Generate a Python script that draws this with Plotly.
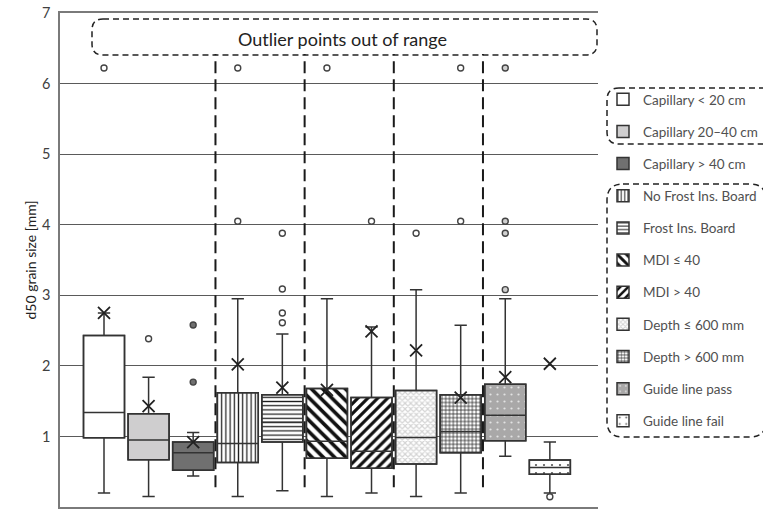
import plotly.graph_objects as go

# ---------------- data ----------------
categories = ["Capillary < 20 cm", "Capillary 20–40 cm", "Capillary > 40 cm",
              "No Frost Ins. Board", "Frost Ins. Board", "MDI ≤ 40", "MDI > 40",
              "Depth ≤ 600 mm", "Depth > 600 mm", "Guide line pass", "Guide line fail"]
positions = [1, 2, 3, 4, 5, 6, 7, 8, 9, 10, 11]
q1_vals = [0.98, 0.67, 0.52, 0.63, 0.92, 0.69, 0.55, 0.61, 0.77, 0.94, 0.465]
median_vals = [1.34, 0.95, 0.77, 0.90, 1.20, 0.93, 0.79, 0.985, 1.07, 1.30, 0.56]
q3_vals = [2.43, 1.32, 0.92, 1.62, 1.59, 1.68, 1.55, 1.65, 1.59, 1.74, 0.665]
low_vals = [0.20, 0.15, 0.44, 0.15, 0.23, 0.15, 0.20, 0.15, 0.20, 0.72, 0.20]
high_vals = [2.75, 1.84, 1.055, 2.95, 2.45, 2.95, 2.55, 3.08, 2.575, 2.95, 0.92]
mean_vals = [2.75, 1.43, 0.92, 2.02, 1.69, 1.66, 2.49, 2.22, 1.55, 1.84, 2.03]
outliers = [[6.22], [2.385], [1.77, 2.58], [4.05, 6.22], [2.61, 2.75, 3.09, 3.88],
            [6.22], [4.05], [3.88], [4.05, 6.22], [3.08, 3.88, 4.05, 6.22], [0.146]]
separators = [3.5, 5.5, 7.5, 9.5]
y_ticks = [0, 1, 2, 3, 4, 5, 6, 7]

# ---------------- styles ----------------
fills = ["#ffffff", "#cfcecf", "#707070", "#ffffff", "#ffffff", "#ffffff", "#ffffff",
         "#ffffff", "#ffffff", "#a9a8a8", "#ffffff"]
outlier_fill = ["#ffffff", "#ffffff", "#707070", "#ffffff", "#ffffff", "#ffffff", "#ffffff",
                "#ffffff", "#ffffff", "#d0d0d0", "#ffffff"]
patterns = [
    None, None, None,
    dict(shape="|", fgcolor="#1e1e1e", bgcolor="#ffffff", size=4.2, solidity=0.3, fillmode="replace"),
    dict(shape="-", fgcolor="#1e1e1e", bgcolor="#ffffff", size=4.2, solidity=0.3, fillmode="replace"),
    dict(shape="\\", fgcolor="#111111", bgcolor="#ffffff", size=8, solidity=0.45, fillmode="replace"),
    dict(shape="/", fgcolor="#111111", bgcolor="#ffffff", size=7, solidity=0.45, fillmode="replace"),
    dict(shape="x", fgcolor="#d4d4d4", bgcolor="#ffffff", size=4, solidity=0.5, fillmode="replace"),
    dict(shape="+", fgcolor="#1e1e1e", bgcolor="#ffffff", size=3.8, solidity=0.35, fillmode="replace"),
    dict(shape=".", fgcolor="#e2e2e2", bgcolor="#a9a8a8", size=7, solidity=0.08, fillmode="replace"),
    dict(shape=".", fgcolor="#555555", bgcolor="#ffffff", size=8, solidity=0.06, fillmode="replace"),
]
line_col = "#333333"
text_col = "#404040"
FONT = "Lato, 'Open Sans', sans-serif"
BOXW = 0.92

fig = go.Figure()

for i, name in enumerate(categories):
    marker = dict(color=fills[i], line=dict(color=line_col, width=1.5))
    if patterns[i] is not None:
        marker["pattern"] = patterns[i]
    fig.add_trace(go.Bar(
        x=[positions[i]], y=[q3_vals[i] - q1_vals[i]], base=[q1_vals[i]],
        width=BOXW, name=name, marker=marker, legendgroup="g%d" % i,
        hoverinfo="skip"))

fig.add_trace(go.Box(
    x=positions, q1=q1_vals, median=median_vals, q3=q3_vals,
    lowerfence=low_vals, upperfence=high_vals,
    width=BOXW, whiskerwidth=0.3, fillcolor="rgba(0,0,0,0)",
    line=dict(color=line_col, width=1.5), boxpoints=False, showlegend=False))

fig.add_trace(go.Scatter(
    x=positions, y=mean_vals, mode="markers", showlegend=False,
    marker=dict(symbol="x-thin", size=12, line=dict(color="#222222", width=1.8))))

ox, oy, oc = [], [], []
for i, vals in enumerate(outliers):
    for v in vals:
        ox.append(positions[i]); oy.append(v); oc.append(outlier_fill[i])
fig.add_trace(go.Scatter(
    x=ox, y=oy, mode="markers", showlegend=False,
    marker=dict(symbol="circle", size=6, color=oc, line=dict(color="#444444", width=1.4))))

# --------------- layout helpers (pixel -> paper) ---------------
L, T, W, H = 60, 13, 538, 494

def px(xp):
    return (xp - L) / W

def py(yp):
    return (T + H - yp) / H

def rrect(x0, y0, x1, y1, r):
    pts = [
        ("M", [(x0 + r, y0)]), ("L", [(x1 - r, y0)]), ("Q", [(x1, y0), (x1, y0 + r)]),
        ("L", [(x1, y1 - r)]), ("Q", [(x1, y1), (x1 - r, y1)]), ("L", [(x0 + r, y1)]),
        ("Q", [(x0, y1), (x0, y1 - r)]), ("L", [(x0, y0 + r)]), ("Q", [(x0, y0), (x0 + r, y0)]),
    ]
    s = ""
    for cmd, ps in pts:
        s += cmd + " " + " ".join("%.5f,%.5f" % (px(a), py(b)) for a, b in ps) + " "
    return s + "Z"

shapes = []
for sx in separators:
    shapes.append(dict(type="line", xref="x", yref="y", x0=sx, x1=sx, y0=0.28, y1=6.42,
                       line=dict(color="#1a1a1a", width=2, dash="12px,6px")))
for (a, b, c, d, r) in [(92, 19, 597, 55, 11), (607, 88, 778, 144, 12), (607, 184, 766, 437, 16)]:
    shapes.append(dict(type="path", xref="paper", yref="paper", path=rrect(a, b, c, d, r),
                       line=dict(color="#222222", width=1.5, dash="6px,4px"), layer="above"))

fig.update_layout(
    width=763, height=510,
    margin=dict(l=L, r=763 - L - W, t=T, b=510 - T - H, autoexpand=False),
    paper_bgcolor="white", plot_bgcolor="white",
    barmode="overlay", boxmode="overlay",
    font=dict(family=FONT, color=text_col),
    shapes=shapes,
    annotations=[dict(xref="paper", yref="paper", x=px(342), y=py(39),
                      xanchor="center", yanchor="middle",
                      text="Outlier points out of range", showarrow=False,
                      font=dict(size=18, color="#222222", family=FONT))],
    xaxis=dict(range=[0.013, 12.08], showticklabels=False, showgrid=False, zeroline=False,
               showline=True, linecolor="#7a7a7a", linewidth=1.5, mirror=True, ticks="",
               automargin=False),
    yaxis=dict(range=[0, 7], tickvals=y_ticks, showgrid=True, gridcolor="#5a5a5a", gridwidth=1.4,
               zeroline=False, showline=True, linecolor="#7a7a7a", linewidth=1.5, ticks="",
               automargin=False,
               ticklabelstandoff=5, tickfont=dict(size=14.5, color=text_col),
               title=dict(text="d50 grain size [mm]", font=dict(size=14, color="#222222"), standoff=2)),
    legend=dict(x=px(603), y=py(84), xanchor="left", yanchor="top",
                font=dict(size=13.5, color="#505050", family=FONT),
                tracegroupgap=11.6, bgcolor="rgba(0,0,0,0)", borderwidth=0,
                itemclick=False, itemdoubleclick=False),
    showlegend=True,
)

fig.write_html("out.html", config={"displayModeBar": False},
               post_script="document.body.style.margin='0px';")
